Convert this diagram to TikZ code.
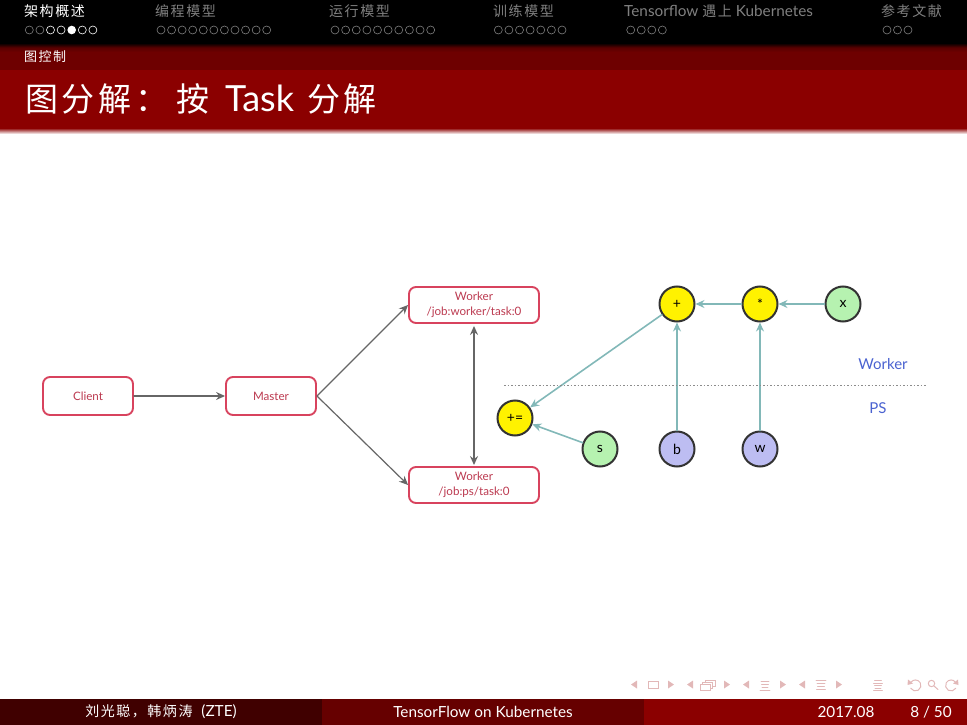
\documentclass[tikz,border=0pt]{standalone}
\usepackage{fontspec}
\setmainfont{Lato}
\newfontfamily\cjk[LetterSpace=11]{Noto Sans CJK SC}
\usetikzlibrary{calc,arrows.meta}
\definecolor{barred}{HTML}{8B0000}
\definecolor{subred}{HTML}{6E0000}
\definecolor{footdark}{HTML}{400000}
\definecolor{footmid}{HTML}{660000}
\definecolor{navgray}{HTML}{808080}
\definecolor{boxred}{HTML}{D8435E}
\definecolor{boxtext}{HTML}{BC3A50}
\definecolor{edgeteal}{HTML}{82B8B8}
\definecolor{opyellow}{HTML}{FFF200}
\definecolor{vargreen}{HTML}{B6F2B0}
\definecolor{parblue}{HTML}{BDBDF2}
\definecolor{zoneblue}{HTML}{4A62D0}
\definecolor{symbolpink}{HTML}{E2B8B8}
\tikzset{
  navtext/.style={anchor=west,text=navgray,font=\cjk\fontsize{14}{16}\selectfont},
  foottext/.style={text=white,font=\fontsize{15.3}{17}\selectfont},
  taskbox/.style={draw=boxred,fill=white,line width=1.9pt,rounded corners=7pt,text=boxtext,
    align=center,minimum width=90pt,minimum height=38pt,inner sep=1pt,
    font=\fontsize{11.6}{15.5}\selectfont},
  opnode/.style={circle,draw=black!80,line width=2pt,minimum size=35pt,inner sep=0pt,
    font=\fontsize{14}{16}\selectfont},
  flow/.style={->,draw=black!60,line width=1.2pt},
  edge/.style={->,draw=edgeteal,line width=1.6pt},
  navdot/.style={draw=#1,line width=0.6pt},
  symbol/.style={draw=symbolpink,line width=0.8pt},
  symtip/.style={fill=symbolpink}
}
\newcommand{\tipleft}[1]{\fill[symtip] (#1-3,684.5) -- (#1+3,680.5) -- (#1+3,688.5) -- cycle;}
\newcommand{\tipright}[1]{\fill[symtip] (#1+3,684.5) -- (#1-3,680.5) -- (#1-3,688.5) -- cycle;}
\begin{document}
\begin{tikzpicture}[x=1pt,y=-1pt,cap=round,>={Stealth[length=9pt,width=8pt,inset=3pt]}]
        \useasboundingbox (0,0) rectangle (967,725);
        % header bars
        \fill[black] (0,0) rectangle (967,44);
        \shade[top color=black,bottom color=subred,middle color=subred!80!black] (0,43) rectangle (967,52);
        \fill[subred] (0,52) rectangle (967,70);
        \fill[barred] (0,70) rectangle (967,128);
        \shade[top color=barred,bottom color=white] (0,128) rectangle (967,134);
        % navigation
        \node[navtext,text=white,inner sep=0pt] (secarch) at (24,11) {架构概述};
        \node[navtext,inner sep=0pt] (secprog) at (155,11) {编程模型};
        \node[navtext,inner sep=0pt] (secrun) at (329,11) {运行模型};
        \node[navtext,inner sep=0pt] (sectrain) at (493,11) {训练模型};
        \node[navtext,inner sep=0pt] (seckube) at (624,11) {\fontspec{Lato}\fontsize{15.3}{16}\selectfont Tensorflow {\cjk\fontsize{14}{16}\selectfont 遇上} Kubernetes};
        \node[navtext,inner sep=0pt] (secref) at (881,11) {参考文献};
        \foreach \i in {0,1}
                \draw[navdot=navgray] (29.3+\i*10.6,30) circle (4);
        \foreach \i in {2,3,5,6}
                \draw[navdot=white] (29.3+\i*10.6,30) circle (4);
        \fill[white] (29.3+4*10.6,30) circle (4.3);
        \foreach \i in {0,...,10}
                \draw[navdot=navgray] (161+\i*10.57,30) circle (4);
        \foreach \i in {0,...,9}
                \draw[navdot=navgray] (335+\i*10.63,30) circle (4);
        \foreach \i in {0,...,6}
                \draw[navdot=navgray] (498.3+\i*10.62,30) circle (4);
        \foreach \i in {0,...,3}
                \draw[navdot=navgray] (630.7+\i*10.55,30) circle (4);
        \foreach \i in {0,...,2}
                \draw[navdot=navgray] (887+\i*10.5,30) circle (4);
        \node[anchor=west,inner sep=0pt,text=white,font=\cjk\fontsize{13}{15}\selectfont] (subsec) at (24,57) {图控制};
        \node[anchor=west,inner sep=0pt,text=white,font=\cjk\fontsize{33}{36}\selectfont] (title) at (25,99) {图分解：\hspace{8pt}按\hspace{5pt} {\fontspec{Lato}\fontsize{36}{36}\selectfont Task} \hspace{2pt}分解};
        % left graph
        \node[taskbox] (client) at (88,396) {Client};
        \node[taskbox] (master) at (271,396) {Master};
        \node[taskbox,minimum width=130pt,minimum height=36pt] (wtop) at (474,305) {Worker\\/job:worker/task:0};
        \node[taskbox,minimum width=130pt,minimum height=36pt] (wbot) at (474,485) {Worker\\/job:ps/task:0};
        \draw[flow] (client) -- (master);
        \draw[flow] (master.east) -- (wtop.west);
        \draw[flow] (master.east) -- (wbot.west);
        \draw[flow,<->,line width=1.6pt,shorten >=1pt,shorten <=2pt] (wtop) -- (wbot);
        % right graph
        \node[opnode,fill=opyellow] (assign) at (515,418) {+=};
        \node[opnode,fill=vargreen] (s) at (600,449) {s};
        \node[opnode,fill=opyellow] (add) at (677,304) {+};
        \node[opnode,fill=opyellow] (mul) at (760,304) {*};
        \node[opnode,fill=vargreen] (x) at (843,304) {x};
        \node[opnode,fill=parblue] (b) at (677,449) {b};
        \node[opnode,fill=parblue] (w) at (760,449) {w};
        \draw[edge] (x) -- (mul);
        \draw[edge] (mul) -- (add);
        \draw[edge] (add) -- (assign);
        \draw[edge] (s) -- (assign);
        \draw[edge] (b) -- (add);
        \draw[edge] (w) -- (mul);
        \coordinate (zonel) at (504,385.5);
        \coordinate (zoner) at (927,385.5);
        \draw[black!45,line width=1.5pt,line cap=butt,dash pattern=on 1.5pt off 2pt] (zonel) -- (zoner);
        \node[text=zoneblue,font=\fontsize{15}{17}\selectfont] (zworker) at (883,364) {Worker};
        \node[text=zoneblue,font=\fontsize{15}{17}\selectfont] (zps) at (878,408) {PS};
        % beamer symbols
        \tipleft{634} \tipright{671} \tipleft{690} \tipright{727}
        \tipleft{746} \tipright{783} \tipleft{802} \tipright{839}
        \draw[symbol] (648,681.5) rectangle (658,688.5);
        \draw[symbol,fill=white] (705,680) rectangle (715,686);
        \draw[symbol,fill=white] (702.5,682) rectangle (712.5,688);
        \draw[symbol,fill=white] (700,684) rectangle (710,690.5);
        \foreach \y/\l in {681/4,684/3.5,687/3,690/5}
                \draw[symbol] (765-\l,\y) -- (765+\l,\y);
        \foreach \y/\l in {680/5,683/4,686/3.5,689/4.5}
                \draw[symbol] (821-\l,\y) -- (821+\l,\y);
        \foreach \y/\l in {680.5/3.5,683/4.5,685.5/3.5,688/3,690.5/4.5}
                \draw[symbol] (878-\l,\y) -- (878+\l,\y);
        \draw[symbol,line width=1pt] (910.7,688.2) arc[start angle=150,end angle=-140,radius=5.5];
        \fill[symtip] (908,679.5) -- (913,683.5) -- (907.5,685) -- cycle;
        \draw[symbol,line width=1pt] (931.5,683.5) circle (3.2);
        \draw[symbol,line width=1pt] (934,686) -- (938,689.5);
        \draw[symbol,line width=1pt] (955.8,688.2) arc[start angle=30,end angle=320,radius=5.5];
        \fill[symtip] (958,679.5) -- (953,683.5) -- (958.5,685) -- cycle;
        % footer
        \fill[footdark] (0,699) rectangle (322,725);
        \fill[footmid] (322,699) rectangle (644,725);
        \fill[barred] (644,699) rectangle (967,725);
        \node[foottext] (authors) at (161,712) {{\cjk\fontsize{14}{16}\selectfont 刘光聪，韩炳涛}\hspace{5pt} (ZTE)};
        \node[foottext] (talk) at (483,712) {TensorFlow on Kubernetes};
        \node[foottext] (date) at (846,712) {2017.08};
        \node[foottext] (page) at (931,712) {8 / 50};
\end{tikzpicture}
\end{document}
